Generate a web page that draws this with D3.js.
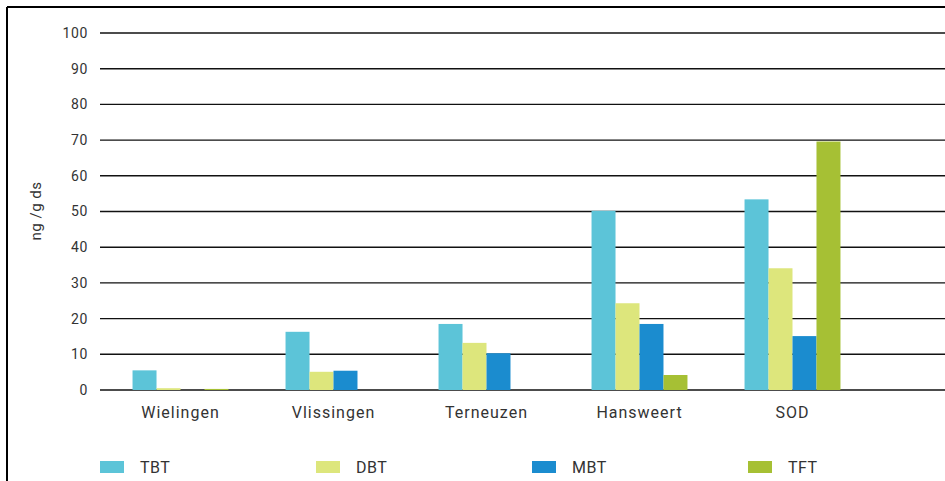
<!DOCTYPE html>
<html>
<head>
<meta charset="utf-8">
<script src="https://cdn.jsdelivr.net/npm/d3@7"></script>
<style>
  body { margin: 0; background: #fff; }
  svg text { font-family: Roboto, "Open Sans", sans-serif; fill: #333; }
</style>
</head>
<body>
<div id="chart"></div>
<script>
// sampling sites along the Westerschelde
var sites = ["Wielingen", "Vlissingen", "Terneuzen", "Hansweert", "SOD"];
var compounds = ["TBT", "DBT", "MBT", "TFT"];

// ng/g ds per compound, one value per site
var tbt = [5.5, 16.3, 18.5, 50.2, 53.4];
var dbt = [0.5, 5.1, 13.2, 24.3, 34.1];
var mbt = [0, 5.4, 10.3, 18.5, 15.1];
var tft = [0.3, 0, 0, 4.2, 69.6];

var yTicks = [0, 10, 20, 30, 40, 50, 60, 70, 80, 90, 100];
var colors = ["#5cc4d8", "#dde67c", "#1b8ccf", "#a6c034"];

var W = 945, H = 481;
var seriesVals = [tbt, dbt, mbt, tft];

var myData = [];
for (var i = 0; i < sites.length; i++) {
    for (var j = 0; j < compounds.length; j++) {
        myData.push({ site: sites[i], compound: compounds[j], value: seriesVals[j][i] });
    }
}

var svg = d3.select("#chart")
    .append("svg")
    .attr("width", W)
    .attr("height", H);

// frame (only top and left visible in the original crop)
svg.append("line").attr("x1", 7).attr("x2", W).attr("y1", 7).attr("y2", 7)
    .attr("stroke", "#000").attr("stroke-width", 2);
svg.append("line").attr("x1", 7).attr("x2", 7).attr("y1", 7).attr("y2", H)
    .attr("stroke", "#000").attr("stroke-width", 2);

var y = d3.scaleLinear().domain([0, 100]).range([390, 33]);

var x = d3.scaleBand()
    .domain(sites)
    .range([104, 869])
    .paddingInner(0.373)
    .paddingOuter(0.1865);

var xs = d3.scaleBand()
    .domain(compounds)
    .range([0, x.bandwidth()]);

// gridlines
svg.append("g")
    .selectAll("line")
    .data(yTicks)
    .enter()
    .append("line")
    .attr("x1", 100)
    .attr("x2", W)
    .attr("y1", function(d) { return y(d); })
    .attr("y2", function(d) { return y(d); })
    .attr("stroke", "#111")
    .attr("stroke-width", 1.4);

// y tick labels
svg.append("g")
    .selectAll("text")
    .data(yTicks)
    .enter()
    .append("text")
    .attr("x", 88)
    .attr("y", function(d) { return y(d); })
    .attr("dy", "0.35em")
    .attr("text-anchor", "end")
    .style("font-size", "14px")
    .style("letter-spacing", "0.6px")
    .text(function(d) { return d; });

// bars
svg.append("g")
    .selectAll("rect")
    .data(myData)
    .enter()
    .append("rect")
    .attr("x", function(d) { return x(d.site) + xs(d.compound); })
    .attr("y", function(d) { return y(d.value); })
    .attr("width", xs.bandwidth())
    .attr("height", function(d) { return y(0) - y(d.value); })
    .style("fill", function(d) { return colors[compounds.indexOf(d.compound)]; });

// category labels
svg.append("g")
    .selectAll("text")
    .data(sites)
    .enter()
    .append("text")
    .attr("x", function(d) { return x(d) + x.bandwidth() / 2; })
    .attr("y", 418)
    .attr("text-anchor", "middle")
    .style("font-size", "16px")
    .style("letter-spacing", "1px")
    .text(function(d) { return d; });

// y axis title
svg.append("text")
    .attr("transform", "translate(41,211) rotate(-90)")
    .attr("text-anchor", "middle")
    .style("font-size", "15px")
    .style("letter-spacing", "0.5px")
    .text("ng /g ds");

// legend
var legend = svg.append("g")
    .selectAll("g")
    .data(compounds)
    .enter()
    .append("g")
    .attr("transform", function(d, i) { return "translate(" + (100 + i * 216) + ",461)"; });
legend.append("rect")
    .attr("width", 24)
    .attr("height", 12)
    .style("fill", function(d, i) { return colors[i]; });
legend.append("text")
    .attr("x", 40)
    .attr("y", 6)
    .attr("dy", "0.35em")
    .style("font-size", "16px")
    .style("letter-spacing", "0.5px")
    .text(function(d) { return d; });
</script>
</body>
</html>
